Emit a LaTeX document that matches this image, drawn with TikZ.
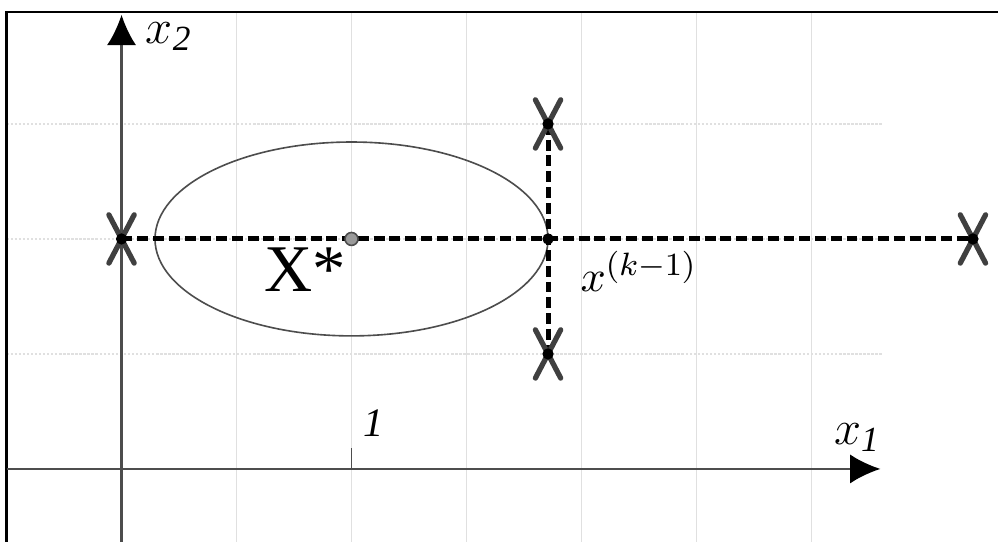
\documentclass[tikz,border=0pt]{standalone}
\usepackage{fontspec}
\setmainfont{Liberation Serif}
\usetikzlibrary{arrows.meta}
\definecolor{gridC}  {HTML}{E0E0E0}
\definecolor{axisC}  {HTML}{4D4D4D}
\definecolor{crossC} {HTML}{404040}
\definecolor{optC}   {HTML}{9A9A9A}
\tikzset{
  >={Latex[length=7.5pt,width=7.2pt,color=black]},
  gridLine/.style={gridC,line width=0.45pt},
  gridLineH/.style={gridC,line width=0.5pt,dash pattern=on 0.6pt off 0.4pt},
  frameLine/.style={black,line width=0.55pt},
  axisLine/.style={->,axisC,line width=0.6pt},
  levelLine/.style={axisC,line width=0.4pt},
  searchLine/.style={black,line width=1.25pt,dash pattern=on 2.7pt off 1.2pt},
  crossMark/.style={crossC,line width=1.3pt,line cap=round},
  trialDot/.style={circle,fill=black,inner sep=0pt,minimum size=2.8pt},
  optDot/.style={circle,draw=axisC,fill=optC,line width=0.4pt,
                 inner sep=0pt,minimum size=3.2pt},
  axisLabel/.style={font=\fontsize{12.5}{14}\selectfont,inner sep=1pt},
}

\begin{document}
\begin{tikzpicture}[x=1cm,y=1cm]
\useasboundingbox (-1.057,-0.635) rectangle (7.622,4.078);

% Grid: solid verticals, dotted horizontals.
\foreach \gx in {1,...,6}
  \draw[gridLine] (\gx,-0.635) -- (\gx,3.974);
\foreach \gy in {1,2,3}
  \draw[gridLineH] (-1,\gy) -- (6.62,\gy);

\draw[frameLine] (-1,-0.7) |- (7.7,3.974);

% Axes.
\coordinate (xStart) at (-1,0);
\coordinate (xEnd)   at (6.6,0);
\coordinate (yStart) at (0,-0.635);
\coordinate (yEnd)   at (0,3.95);
\draw[axisLine] (xStart) -- (xEnd);
\draw[axisLine] (yStart) -- (yEnd);
\draw[levelLine] (2,0) -- (2,0.18);

\node[axisLabel,anchor=west] (x2lab) at (0.17,3.76) {$x_{\mathit{2}}$};
\node[axisLabel] (x1lab) at (6.4,0.27) {$x_{\mathit{1}}$};
\node[font=\fontsize{10}{12}\selectfont\itshape] (onelab) at (2.19,0.40) {1};

% Level line around the optimum.
\draw[levelLine] (2,2) ellipse [x radius=1.709,y radius=0.843];

% Trial points of the search.
\coordinate (xs) at (2,2);
\coordinate (p0) at (0,2);
\coordinate (pk) at (3.709,2);
\coordinate (pU) at (3.709,3);
\coordinate (pD) at (3.709,1);
\coordinate (pR) at (7.404,2);

\draw[searchLine] (p0) -- (pR);
\draw[searchLine] (pU) -- (pD);

\foreach \p in {p0,pU,pD,pR} {
  \draw[crossMark] ([shift={(-0.11,0.21)}]\p) -- ([shift={(0.11,-0.21)}]\p);
  \draw[crossMark] ([shift={(-0.11,-0.21)}]\p) -- ([shift={(0.11,0.21)}]\p);
}
\foreach \p in {p0,pk,pU,pD,pR}
  \node[trialDot] (dot-\p) at (\p) {};
\node[optDot] (optPt) at (xs) {};

\node[font=\fontsize{16.5}{18}\selectfont] (xstarLab) at (1.6,1.73) {X*};
\node[font=\fontsize{11}{13}\selectfont] (xkLab) at (4.5,1.72) {$x^{(k-1)}$};

\end{tikzpicture}
\end{document}
